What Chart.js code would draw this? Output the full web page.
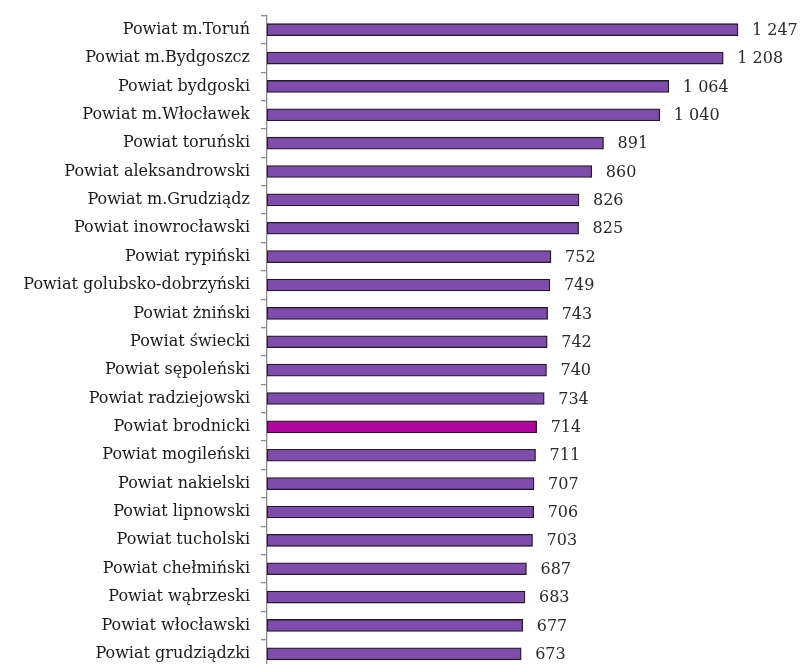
<!DOCTYPE html>
<html>
<head>
<meta charset="utf-8">
<script src="https://cdn.jsdelivr.net/npm/chart.js@4"></script>
<style>
  html, body { margin: 0; padding: 0; background: #fff; overflow: hidden; }
</style>
</head>
<body>
<canvas id="powiatyChart" width="800" height="670"></canvas>
<script>
const categories = [
  'Powiat m.Toruń', 'Powiat m.Bydgoszcz', 'Powiat bydgoski', 'Powiat m.Włocławek',
  'Powiat toruński', 'Powiat aleksandrowski', 'Powiat m.Grudziądz', 'Powiat inowrocławski',
  'Powiat rypiński', 'Powiat golubsko-dobrzyński', 'Powiat żniński', 'Powiat świecki',
  'Powiat sępoleński', 'Powiat radziejowski', 'Powiat brodnicki', 'Powiat mogileński',
  'Powiat nakielski', 'Powiat lipnowski', 'Powiat tucholski', 'Powiat chełmiński',
  'Powiat wąbrzeski', 'Powiat włocławski', 'Powiat grudziądzki'
];
const values = [1247, 1208, 1064, 1040, 891, 860, 826, 825, 752, 749, 743, 742, 740, 734, 714, 711, 707, 706, 703, 687, 683, 677, 673];
const highlighted = 'Powiat brodnicki';

const fontFamily = '"DejaVu Serif", "Liberation Serif", serif';

// etykiety z wartościami przy końcach słupków
const valueLabels = {
  id: 'valueLabels',
  afterDatasetsDraw(chart) {
    const ctx = chart.ctx;
    const meta = chart.getDatasetMeta(0);
    ctx.save();
    ctx.font = '16px ' + fontFamily;
    ctx.fillStyle = '#2a2a2a';
    ctx.textBaseline = 'middle';
    ctx.textAlign = 'left';
    meta.data.forEach(function (bar, i) {
      const txt = values[i].toString().replace(/\B(?=(\d{3})+(?!\d))/g, ' ');
      ctx.fillText(txt, bar.x + 14, bar.y + 1);
    });
    ctx.restore();
  }
};

new Chart(document.getElementById('powiatyChart').getContext('2d'), {
  type: 'bar',
  data: {
    labels: categories,
    datasets: [{
      data: values,
      backgroundColor: categories.map(c => c === highlighted ? '#b0089c' : '#7f4bad'),
      borderColor: '#1e1e1e',
      borderWidth: 1.3,
      borderSkipped: false,
      barThickness: 12
    }]
  },
  options: {
    indexAxis: 'y',
    responsive: false,
    animation: false,
    layout: { padding: { top: 15.5, right: 42, bottom: 2, left: 0 } },
    plugins: { legend: { display: false }, tooltip: { enabled: false } },
    scales: {
      x: {
        display: false,
        min: 0,
        max: 1300
      },
      y: {
        afterFit(scale) {
          scale.width = 267;
          scale.paddingTop = 0;
          scale.paddingBottom = 0;
        },
        border: { display: true, color: '#8c8c8c', width: 1.3 },
        grid: { drawOnChartArea: false, tickLength: 6, color: '#8c8c8c', lineWidth: 1.3 },
        ticks: {
          color: '#1a1a1a',
          padding: 11,
          autoSkip: false,
          font: { family: fontFamily, size: 16 }
        }
      }
    }
  },
  plugins: [valueLabels]
});
</script>
</body>
</html>
